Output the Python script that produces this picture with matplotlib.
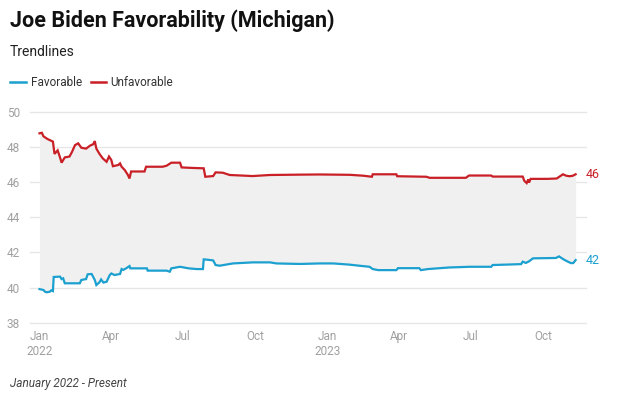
#!/usr/bin/env python3
"""
plot.py

Joe Biden favorability trendlines in Michigan (Jan 2022 - present).

Outputs:
  out.png
"""

import numpy as np
import matplotlib
matplotlib.use("Agg")
import matplotlib.pyplot as plt

# ----------------------------------------------------------------------
# Data
# ----------------------------------------------------------------------
unfav_dates = [
    "2022-01-01", "2022-01-04", "2022-01-06", "2022-01-11", "2022-01-18", "2022-01-20",
    "2022-01-24", "2022-01-27", "2022-01-29", "2022-02-02", "2022-02-08", "2022-02-11",
    "2022-02-15", "2022-02-19", "2022-02-23", "2022-03-01", "2022-03-06", "2022-03-10",
    "2022-03-12", "2022-03-14", "2022-03-18", "2022-03-22", "2022-03-27", "2022-03-30",
    "2022-04-02", "2022-04-04", "2022-04-11", "2022-04-13", "2022-04-15", "2022-04-19",
    "2022-04-23", "2022-04-25", "2022-04-27", "2022-05-14", "2022-05-16", "2022-06-06",
    "2022-06-11", "2022-06-17", "2022-06-28", "2022-06-30", "2022-07-15", "2022-07-28",
    "2022-07-30", "2022-08-09", "2022-08-12", "2022-08-21", "2022-08-30", "2022-09-28",
    "2022-10-20", "2022-11-27", "2022-12-22", "2023-01-29", "2023-02-15", "2023-02-26",
    "2023-02-27", "2023-03-29", "2023-03-30", "2023-05-06", "2023-05-10", "2023-06-25",
    "2023-06-29", "2023-07-27", "2023-07-29", "2023-09-05", "2023-09-07", "2023-09-10",
    "2023-09-12", "2023-09-13", "2023-09-15", "2023-10-06", "2023-10-18", "2023-10-26",
    "2023-10-30", "2023-11-03", "2023-11-07", "2023-11-11",
]
unfav_values = [
    48.77, 48.80, 48.60, 48.45, 48.30, 47.60,
    47.80, 47.40, 47.10, 47.40, 47.45, 47.70,
    48.10, 48.20, 47.95, 47.90, 48.07, 48.15,
    48.33, 47.90, 47.60, 47.35, 47.15, 47.45,
    47.25, 46.90, 46.97, 47.06, 46.87, 46.68,
    46.40, 46.20, 46.60, 46.60, 46.87, 46.87,
    46.93, 47.10, 47.10, 46.83, 46.80, 46.78,
    46.30, 46.34, 46.55, 46.53, 46.40, 46.34,
    46.40, 46.42, 46.43, 46.41, 46.36, 46.30,
    46.44, 46.44, 46.33, 46.30, 46.24, 46.24,
    46.37, 46.37, 46.31, 46.31, 46.07, 45.94,
    46.15, 45.97, 46.18, 46.18, 46.20, 46.44,
    46.36, 46.33, 46.35, 46.44,
]

fav_dates = [
    "2022-01-01", "2022-01-06", "2022-01-08", "2022-01-10", "2022-01-14", "2022-01-16",
    "2022-01-18", "2022-01-19", "2022-01-27", "2022-01-29", "2022-01-31", "2022-02-02",
    "2022-02-21", "2022-02-23", "2022-03-01", "2022-03-03", "2022-03-08", "2022-03-12",
    "2022-03-14", "2022-03-18", "2022-03-20", "2022-03-23", "2022-03-27", "2022-03-31",
    "2022-04-02", "2022-04-06", "2022-04-13", "2022-04-15", "2022-04-17", "2022-04-21",
    "2022-04-25", "2022-04-26", "2022-05-17", "2022-05-18", "2022-06-11", "2022-06-15",
    "2022-06-17", "2022-06-28", "2022-07-09", "2022-07-19", "2022-07-27", "2022-07-28",
    "2022-08-02", "2022-08-09", "2022-08-12", "2022-08-17", "2022-09-03", "2022-09-28",
    "2022-10-20", "2022-10-28", "2022-11-27", "2022-12-22", "2023-01-08", "2023-01-29",
    "2023-02-10", "2023-02-23", "2023-02-27", "2023-03-06", "2023-03-29", "2023-03-31",
    "2023-04-27", "2023-04-29", "2023-05-08", "2023-05-23", "2023-06-04", "2023-06-30",
    "2023-07-27", "2023-07-29", "2023-09-03", "2023-09-05", "2023-09-09", "2023-09-13",
    "2023-09-18", "2023-10-17", "2023-10-21", "2023-10-26", "2023-10-30", "2023-11-05",
    "2023-11-08", "2023-11-11",
]
fav_values = [
    39.91, 39.86, 39.76, 39.73, 39.76, 39.84,
    39.80, 40.60, 40.62, 40.48, 40.52, 40.24,
    40.24, 40.43, 40.48, 40.75, 40.77, 40.43,
    40.14, 40.30, 40.46, 40.28, 40.33, 40.71,
    40.80, 40.71, 40.77, 41.05, 41.00, 41.10,
    41.22, 41.09, 41.09, 40.96, 40.96, 40.90,
    41.09, 41.18, 41.09, 41.05, 41.05, 41.60,
    41.58, 41.54, 41.28, 41.24, 41.37, 41.43,
    41.43, 41.37, 41.34, 41.37, 41.37, 41.30,
    41.24, 41.18, 41.05, 40.99, 40.99, 41.10,
    41.10, 40.99, 41.05, 41.10, 41.14, 41.18,
    41.18, 41.28, 41.33, 41.47, 41.40, 41.49,
    41.66, 41.68, 41.77, 41.62, 41.52, 41.39,
    41.39, 41.56,
]

tick_dates = ["2022-01-01", "2022-04-01", "2022-07-01", "2022-10-01",
              "2023-01-01", "2023-04-01", "2023-07-01", "2023-10-01"]
tick_labels = ["Jan\n2022", "Apr", "Jul", "Oct", "Jan\n2023", "Apr", "Jul", "Oct"]
y_ticks = [38, 40, 42, 44, 46, 48, 50]

# ----------------------------------------------------------------------
# Style
# ----------------------------------------------------------------------
plt.rcParams["font.family"] = ["Roboto", "DejaVu Sans"]

BLUE = "#1ba0cf"
RED = "#c91f26"
GRID = "#e6e6e6"
TICK = "#a0a0a0"

ud = np.array(unfav_dates, dtype="datetime64[D]")
fd = np.array(fav_dates, dtype="datetime64[D]")
uv = np.array(unfav_values)
fv = np.array(fav_values)

# ----------------------------------------------------------------------
# Plot
# ----------------------------------------------------------------------
fig = plt.figure(figsize=(6.19, 3.94), dpi=100)
ax = fig.add_axes([0.0485, 0.181, 0.898, 0.5355])

# shaded band between the two lines (on a common daily grid)
days = np.arange(ud[0], ud[-1] + 1, dtype="datetime64[D]")
u_interp = np.interp(days.astype(float), ud.astype(float), uv)
f_interp = np.interp(days.astype(float), fd.astype(float), fv)
ax.fill_between(days, f_interp, u_interp, color="#f0f0f0", lw=0, zorder=1)

ax.plot(fd, fv, color=BLUE, lw=1.6, zorder=3, solid_joinstyle="miter")
ax.plot(ud, uv, color=RED, lw=1.6, zorder=3, solid_joinstyle="miter")

ax.set_ylim(38, 50)
ax.set_xlim(np.datetime64("2021-12-20"), np.datetime64("2023-11-24"))
ax.set_yticks(y_ticks)
ax.set_xticks(np.array(tick_dates, dtype="datetime64[D]"))
ax.set_xticklabels(tick_labels)

for s in ax.spines.values():
    s.set_visible(False)
ax.grid(False)
for y in y_ticks:
    ax.axhline(y, color=GRID, lw=1, zorder=0, clip_on=False)
ax.tick_params(axis="both", length=0, labelsize=8.5, labelcolor=TICK)
ax.tick_params(axis="y", pad=3)
ax.tick_params(axis="x", pad=5)
for lbl in ax.get_yticklabels():
    lbl.set_horizontalalignment("left")
    lbl.set_x(-0.034)
for lbl in ax.get_xticklabels():
    lbl.set_linespacing(1.25)

# end-of-line value labels
ax.annotate(f"{uv[-1]:.0f}", xy=(1.0, uv[-1]), xycoords=("axes fraction", "data"),
            ha="left", va="center", color=RED, fontsize=9)
ax.annotate(f"{fv[-1]:.0f}", xy=(1.0, fv[-1]), xycoords=("axes fraction", "data"),
            ha="left", va="center", color=BLUE, fontsize=9)

# ----------------------------------------------------------------------
# Titles, legend, footer
# ----------------------------------------------------------------------
fig.text(10 / 619, 1 - 21 / 394, "Joe Biden Favorability (Michigan)",
         fontsize=15.5, fontweight="bold", color="#111111", va="center", ha="left")
fig.text(10 / 619, 1 - 52 / 394, "Trendlines", fontsize=10, color="#222222",
         va="center", ha="left")

leg_y = 1 - 82 / 394
fig.add_artist(plt.Line2D([10 / 619, 26 / 619], [leg_y, leg_y], color=BLUE, lw=1.8))
fig.text(31 / 619, leg_y, "Favorable", fontsize=8.5, color="#333333", va="center", ha="left")
fig.add_artist(plt.Line2D([91 / 619, 106 / 619], [leg_y, leg_y], color=RED, lw=1.8))
fig.text(110 / 619, leg_y, "Unfavorable", fontsize=8.5, color="#333333", va="center", ha="left")

fig.text(10 / 619, 1 - 383 / 394, "January 2022 - Present", fontsize=8.5,
         style="italic", color="#444444", va="center", ha="left")

fig.savefig("out.png", dpi=100)
